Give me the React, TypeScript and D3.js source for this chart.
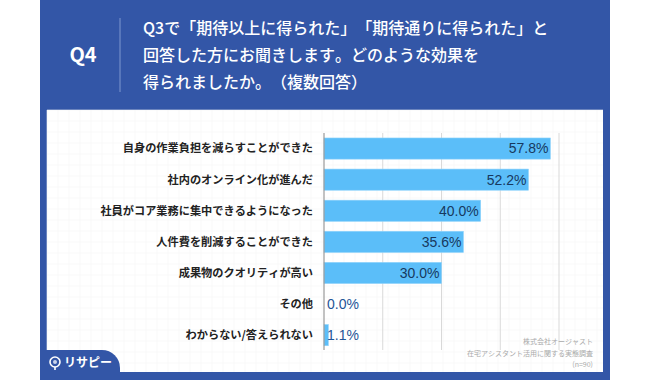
import React from "react";
import * as d3 from "d3";

const categories = [
  "自身の作業負担を減らすことができた",
  "社内のオンライン化が進んだ",
  "社員がコア業務に集中できるようになった",
  "人件費を削減することができた",
  "成果物のクオリティが高い",
  "その他",
  "わからない/答えられない",
];
const values = [57.8, 52.2, 40.0, 35.6, 30.0, 0.0, 1.1];
const gridTicks = [15, 30, 45, 60];
const titleLines = [
  "Q3で「期待以上に得られた」「期待通りに得られた」と",
  "回答した方にお聞きします。どのような効果を",
  "得られましたか。（複数回答）",
];
const sourceLines = ["株式会社オージャスト", "在宅アシスタント活用に関する実態調査", "(n=90)"];

const BLUE = "#3356a7";
const JP = "'Noto Sans CJK JP', 'Noto Sans', sans-serif";
const LAT = "'Liberation Sans', Arial, sans-serif";
const jpStyle: any = { fontKerning: "none", textSpacingTrim: "space-all" };

export default function App() {
  const x = d3.scaleLinear().domain([0, 60]).range([324, 559]);
  const y = d3.scaleBand<string>().domain(categories).range([133, 350.7]).paddingInner(0.32).paddingOuter(0.16);
  const gridTop = 133;
  const gridBottom = 350;

  const bgLines: number[] = d3.range(47, 604, 11);
  const bgLinesY: number[] = d3.range(110, 373, 11);

  return (
    <svg width={650} height={380} style={{ position: "absolute", left: 0, top: 0 }}>
      <rect x={0} y={0} width={650} height={380} fill="#fff" />
      <rect x={40} y={0} width={570} height={380} fill={BLUE} />
      <rect x={47} y={110} width={556} height={263} fill="#fff" />
      <g stroke="#f5f5f5" strokeWidth={0.6}>
        {bgLines.map((v) => (
          <line key={"bx" + v} x1={v} x2={v} y1={110} y2={373} />
        ))}
        {bgLinesY.map((v) => (
          <line key={"by" + v} x1={47} x2={603} y1={v} y2={v} />
        ))}
      </g>

      {/* header */}
      <text x={83} y={62} fill="#fff" fontFamily={JP} fontWeight={700} fontSize={20} textAnchor="middle">
        Q4
      </text>
      <line x1={120} x2={120} y1={18} y2={92} stroke="#7f97cf" strokeWidth={1} />
      {titleLines.map((t, i) => (
        <text key={i} x={143} y={34 + i * 27} fill="#fff" fontFamily={JP} fontWeight={500} fontSize={16} style={jpStyle}>
          {t}
        </text>
      ))}

      {/* grid */}
      {gridTicks.map((t) => (
        <line key={t} x1={x(t)} x2={x(t)} y1={gridTop} y2={gridBottom} stroke="#d9d9d9" strokeWidth={1} />
      ))}

      {/* bars */}
      {categories.map((c, i) => {
        const v = values[i];
        const by = y(c)!;
        const bh = y.bandwidth();
        const x0 = x(0);
        const x1 = x(v);
        const inside = x1 - x0 > 45;
        return (
          <g key={c}>
            {v > 0 && (
              <rect x={x0} y={by} width={x1 - x0} height={bh} fill="#5bbef9" stroke="#8fd3fb" strokeWidth={0.6} />
            )}
            <text
              x={inside ? x1 - 2 : x0 + 3}
              y={by + bh / 2}
              dy="0.35em"
              textAnchor={inside ? "end" : "start"}
              fill={inside ? "#17395f" : "#1f5597"}
              fontFamily={LAT}
              fontSize={14}
            >
              {v.toFixed(1)}%
            </text>
            <text
              x={313}
              y={by + bh / 2}
              dy="0.35em"
              textAnchor="end"
              fill="#222"
              fontFamily={JP}
              fontWeight={700}
              fontSize={11.2}
              style={jpStyle}
            >
              {c}
            </text>
          </g>
        );
      })}
      <line x1={x(0)} x2={x(0)} y1={gridTop} y2={gridBottom} stroke="#999" strokeWidth={1.2} />

      {/* source */}
      {sourceLines.map((s, i) => (
        <text key={i} x={593} y={344 + i * 11.5} textAnchor="end" fill="#aaa" fontFamily={JP} fontSize={7} style={jpStyle}>
          {s}
        </text>
      ))}

      {/* logo bump */}
      <path d="M40,350 L102,350 A18,18 0 0 1 120,368 L120,380 L40,380 Z" fill={BLUE} />
      <rect x={40} y={372} width={570} height={8} fill={BLUE} />
      <circle cx={55} cy={362} r={5} fill="none" stroke="#fff" strokeWidth={1.6} />
      <circle cx={55} cy={362} r={2} fill="#c9d3ea" />
      <line x1={55} x2={55} y1={367} y2={370} stroke="#fff" strokeWidth={1.6} />
      <text x={64} y={367} fill="#fff" fontFamily={JP} fontWeight={700} fontSize={12} style={jpStyle}>
        リサピー
      </text>
    </svg>
  );
}
